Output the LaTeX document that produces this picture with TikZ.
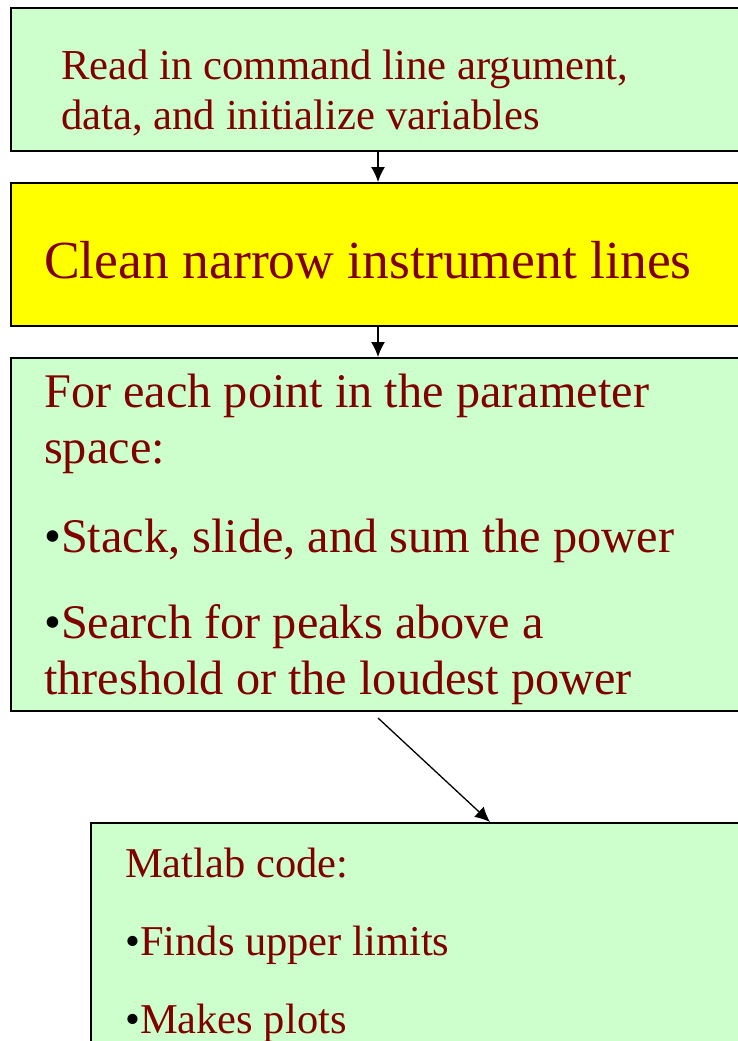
\documentclass[tikz,border=0pt]{standalone}
\usepackage{fontspec}
\setmainfont{Liberation Serif}
\usetikzlibrary{arrows.meta}
\definecolor{boxgreen}{HTML}{CCFFCC}
\definecolor{boxyellow}{HTML}{FFFF00}
\definecolor{txtred}{HTML}{800000}
\tikzset{
  flowbox/.style={draw=black, line width=1.6pt, rectangle, inner sep=0pt, anchor=north west},
  greenbox/.style={flowbox, fill=boxgreen},
  yellowbox/.style={flowbox, fill=boxyellow},
  txt/.style={inner sep=0pt, anchor=base west, text=txtred},
  conn/.style={draw=black, line width=1.3pt, -{Latex[length=15pt,width=14pt]}},
  bul/.style={text=black}
}
\newcommand{\fsA}{\fontsize{42.7}{50}\selectfont}
\newcommand{\fsB}{\fontsize{53.6}{64}\selectfont}
\newcommand{\fsC}{\fontsize{48.3}{58}\selectfont}
\newcommand{\fsD}{\fontsize{42.5}{50}\selectfont}
\newcommand{\blt}{{\color{black}\char"2022}}
\begin{document}
\begin{tikzpicture}[x=1pt,y=-1pt]
\useasboundingbox (0,0) rectangle (738,1041);
\clip (0,0) rectangle (738,1041);
% boxes
\node[greenbox, minimum width=780pt, minimum height=143pt] (b1) at (10,7) {};
\node[yellowbox, minimum width=780pt, minimum height=143pt] (b2) at (10,182) {};
\node[greenbox, minimum width=780pt, minimum height=353pt] (b3) at (10,357) {};
\node[greenbox, minimum width=700pt, minimum height=260pt] (b4) at (90,822) {};
% texts
\node[txt, font=\fsA] (t1a) at (61,79) {Read in command line argument,};
\node[txt, font=\fsA] (t1b) at (61,129) {data, and initialize variables};
\node[txt, font=\fsB] (t2) at (44,278) {Clean narrow instrument lines};
\node[txt, font=\fsC] (t3a) at (44,407) {For each point in the parameter};
\node[txt, font=\fsC] (t3b) at (44,463) {space:};
\node[txt, font=\fsC] (t3c) at (44,552) {\blt Stack, slide, and sum the power};
\node[txt, font=\fsC] (t3d) at (44,638) {\blt Search for peaks above a};
\node[txt, font=\fsC] (t3e) at (44,694) {threshold or the loudest power};
\node[txt, font=\fsD] (t4a) at (125,877) {Matlab code:};
\node[txt, font=\fsD] (t4b) at (125,955) {\blt Finds upper limits};
\node[txt, font=\fsD] (t4c) at (125,1033) {\blt Makes plots};
% connectors
\coordinate (ax) at (378,0);
\coordinate (a3s) at (378,718);
\coordinate (a3e) at (490,822);
\draw[conn] (b1.south -| ax) -- (b2.north -| ax);
\draw[conn] (b2.south -| ax) -- (b3.north -| ax);
\draw[conn] (a3s) -- (b4.north -| a3e);
\end{tikzpicture}
\end{document}
